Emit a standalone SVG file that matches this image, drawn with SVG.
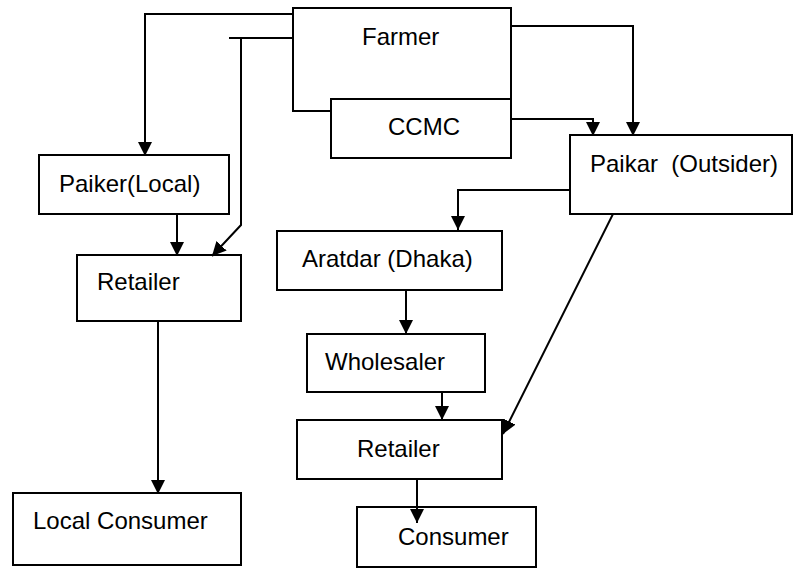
<svg xmlns="http://www.w3.org/2000/svg" width="795" height="569" viewBox="0 0 795 569">
<style>
.box{fill:#fff;stroke:#000;stroke-width:2}
.lbl{font-family:"Liberation Sans",Arial,sans-serif;font-size:24px;fill:#000;white-space:pre}
.con{fill:none;stroke:#000;stroke-width:2}
.arr{marker-end:url(#ah)}
</style>
<defs>
<marker id="ah" viewBox="0 0 14 14" refX="14" refY="7" markerWidth="14" markerHeight="14" markerUnits="userSpaceOnUse" orient="auto">
<path d="M0,0 L14,7 L0,14 z" fill="#000"/>
</marker>
</defs>
<rect width="795" height="569" fill="#fff"/>
<g id="nodes">
<g id="farmer"><path class="box" d="M331,99 H511 V8 H293 V99"/><text class="lbl" x="362" y="45">Farmer</text></g>
<g id="ccmc"><rect class="box" x="331" y="99" width="180" height="59"/><text class="lbl" x="388" y="135">CCMC</text></g>
<g id="paiker-local"><rect class="box" x="39" y="155" width="190" height="59"/><text class="lbl" x="59" y="192">Paiker(Local)</text></g>
<g id="retailer-local"><rect class="box" x="77" y="255" width="164" height="66"/><text class="lbl" x="97" y="290">Retailer</text></g>
<g id="local-consumer"><rect class="box" x="13" y="493" width="228" height="72"/><text class="lbl" x="33" y="529">Local Consumer</text></g>
<g id="paikar-outsider"><rect class="box" x="570" y="135" width="222" height="79"/><text class="lbl" x="590" y="172" xml:space="preserve">Paikar  (Outsider)</text></g>
<g id="aratdar"><rect class="box" x="277" y="231" width="225" height="59"/><text class="lbl" x="302" y="267">Aratdar (Dhaka)</text></g>
<g id="wholesaler"><rect class="box" x="307" y="334" width="178" height="58"/><text class="lbl" x="325" y="370">Wholesaler</text></g>
<g id="retailer"><rect class="box" x="297" y="420" width="205" height="59"/><text class="lbl" x="357" y="457">Retailer</text></g>
<g id="consumer"><rect class="box" x="357" y="507" width="179" height="60"/><text class="lbl" x="398" y="545">Consumer</text></g>
</g>
<g id="connectors">
<path class="con" d="M293,99 V111 H331"/>
<path class="con arr" d="M293,14 H145 V156"/>
<path class="con" d="M293,38 H229"/>
<path class="con arr" d="M241,38 V225 L212,256"/>
<path class="con arr" d="M511,26 H633 V136"/>
<path class="con arr" d="M511,119 H593 V136"/>
<path class="con arr" d="M570,190 H458 V230"/>
<path class="con arr" d="M406,290 V334"/>
<path class="con arr" d="M442,392 V420"/>
<path class="con arr" d="M613,214 L503,434"/>
<path class="con arr" d="M417,479 V523"/>
<path class="con arr" d="M177,214 V256"/>
<path class="con arr" d="M158,321 V494"/>
</g>
</svg>
